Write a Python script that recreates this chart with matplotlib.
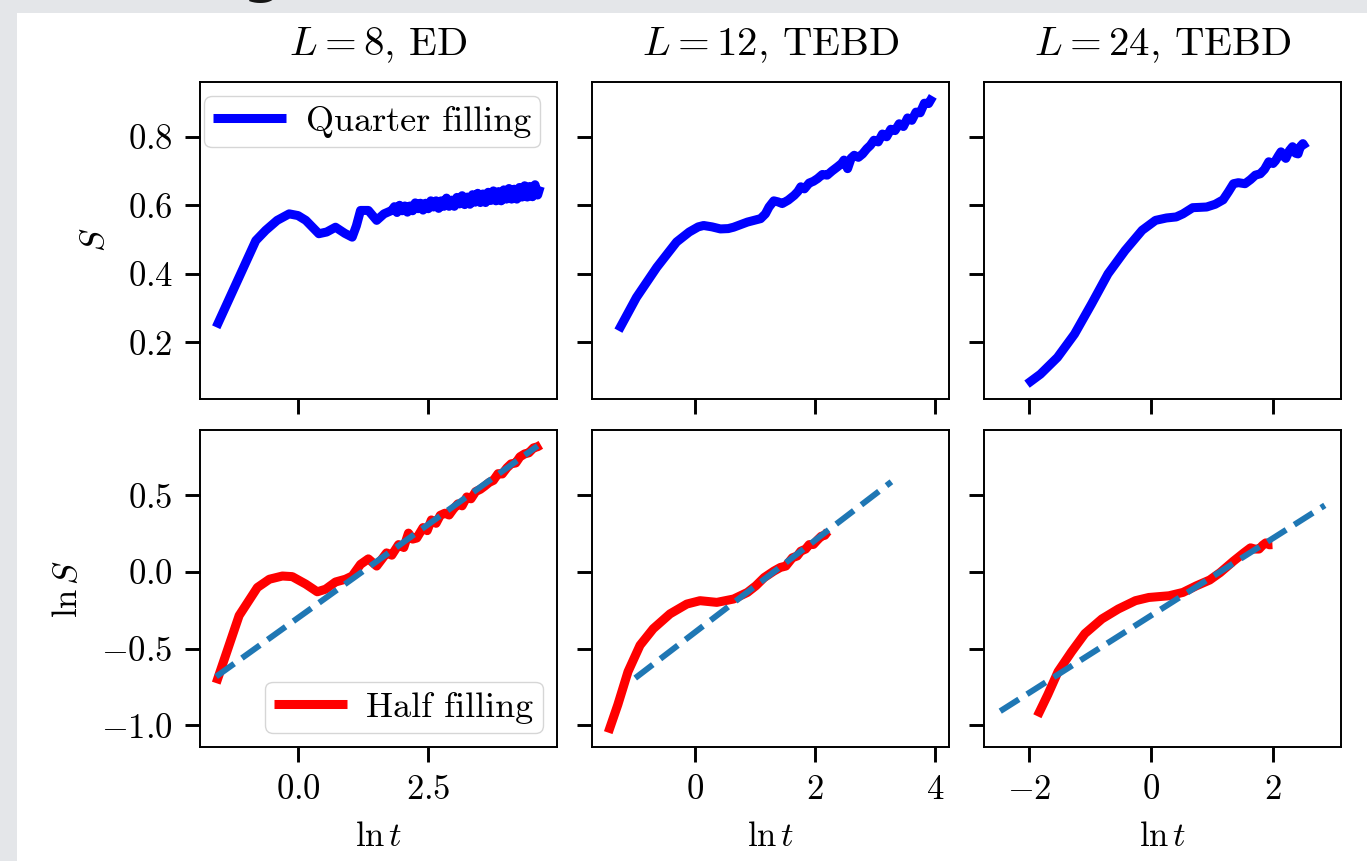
# エンタングルメントエントロピーの時間発展 (ED / TEBD)

# --------------------------------------------
# インポート
# --------------------------------------------
import numpy as np
import matplotlib
matplotlib.use("Agg")
from matplotlib import pyplot as plt
from matplotlib.patches import Rectangle

# --------------------------------------------
# データ
# --------------------------------------------

titles = [r"$L = 8$, ED", r"$L = 12$, TEBD", r"$L = 24$, TEBD"]

# 上段: Quarter filling, S vs ln t
quarter_l8_lnt = [-1.57, -0.81, -0.62, -0.40, -0.17, 0.00, 0.15, 0.40, 0.55, 0.72,
                  0.90, 1.04, 1.12, 1.20, 1.35, 1.51, 1.65, 1.80,
                  1.85, 1.90, 1.95, 2.00, 2.05, 2.10, 2.15, 2.20, 2.25, 2.30,
                  2.35, 2.40, 2.45, 2.50, 2.55, 2.60, 2.65, 2.70, 2.75, 2.80,
                  2.85, 2.90, 2.95, 3.00, 3.05, 3.10, 3.15, 3.20, 3.25, 3.30,
                  3.35, 3.40, 3.45, 3.50, 3.55, 3.60, 3.65, 3.70, 3.75, 3.80,
                  3.85, 3.90, 3.95, 4.00, 4.05, 4.10, 4.15, 4.20, 4.25, 4.30,
                  4.35, 4.40, 4.45, 4.50, 4.55, 4.60, 4.65]
quarter_l8_s = [0.244, 0.497, 0.527, 0.556, 0.575, 0.570, 0.556, 0.517, 0.522, 0.536,
                0.518, 0.507, 0.540, 0.585, 0.585, 0.556, 0.575, 0.585,
                0.596, 0.579, 0.600, 0.584, 0.598, 0.580, 0.598, 0.584, 0.607, 0.590,
                0.606, 0.586, 0.606, 0.590, 0.613, 0.595, 0.613, 0.591, 0.613, 0.597,
                0.621, 0.597, 0.615, 0.597, 0.623, 0.604, 0.628, 0.602, 0.624, 0.603,
                0.631, 0.609, 0.635, 0.608, 0.633, 0.608, 0.638, 0.614, 0.642, 0.613,
                0.640, 0.613, 0.645, 0.618, 0.649, 0.618, 0.647, 0.618, 0.652, 0.624,
                0.657, 0.624, 0.655, 0.625, 0.660, 0.630, 0.655]

quarter_l12_lnt = [-1.28, -0.98, -0.64, -0.31, -0.10, 0.05, 0.14, 0.28, 0.42, 0.55,
                   0.64, 0.87, 1.09, 1.17, 1.23, 1.31, 1.38, 1.45, 1.55, 1.65,
                   1.71, 1.76, 1.82, 1.90, 1.97, 2.04, 2.12, 2.20, 2.28, 2.37,
                   2.44, 2.48, 2.54, 2.60, 2.65, 2.72, 2.79, 2.86, 2.92, 2.98,
                   3.05, 3.12, 3.19, 3.26, 3.33, 3.40, 3.47, 3.54, 3.61, 3.68,
                   3.75, 3.82, 3.89, 3.96]
quarter_l12_s = [0.234, 0.331, 0.419, 0.493, 0.522, 0.537, 0.541, 0.537, 0.531, 0.532,
                 0.536, 0.551, 0.561, 0.575, 0.595, 0.613, 0.610, 0.605, 0.615, 0.629,
                 0.640, 0.654, 0.648, 0.665, 0.670, 0.678, 0.690, 0.688, 0.700, 0.712,
                 0.722, 0.732, 0.707, 0.738, 0.746, 0.740, 0.750, 0.765, 0.775, 0.790,
                 0.785, 0.808, 0.800, 0.822, 0.818, 0.838, 0.830, 0.855, 0.848, 0.872,
                 0.870, 0.898, 0.897, 0.918]

quarter_l24_lnt = [-2.04, -1.82, -1.54, -1.26, -0.98, -0.71, -0.43, -0.15, 0.07, 0.25,
                   0.41, 0.52, 0.68, 0.80, 0.91, 1.05, 1.18, 1.27, 1.35, 1.43,
                   1.54, 1.63, 1.71, 1.79, 1.86, 1.93, 2.00, 2.04, 2.09, 2.13,
                   2.18, 2.21, 2.27, 2.32, 2.37, 2.41, 2.45, 2.49, 2.54]
quarter_l24_s = [0.078, 0.107, 0.156, 0.224, 0.312, 0.400, 0.468, 0.527, 0.556, 0.563,
                 0.566, 0.575, 0.593, 0.594, 0.595, 0.603, 0.616, 0.640, 0.663, 0.666,
                 0.663, 0.675, 0.688, 0.692, 0.705, 0.727, 0.722, 0.730, 0.745, 0.756,
                 0.742, 0.737, 0.760, 0.771, 0.752, 0.750, 0.772, 0.780, 0.766]

# 下段: Half filling, ln S vs ln t
half_l8_lnt = [-1.57, -1.13, -0.78, -0.55, -0.30, -0.11, 0.15, 0.37, 0.53, 0.72,
               0.91, 1.04, 1.20, 1.35, 1.51, 1.70, 1.80, 1.93, 2.03, 2.12,
               2.20, 2.28, 2.40, 2.48, 2.56, 2.65, 2.73, 2.82, 2.90, 2.98,
               3.07, 3.15, 3.24, 3.32, 3.41, 3.50, 3.58, 3.67, 3.75, 3.84,
               3.92, 4.01, 4.09, 4.18, 4.26, 4.35, 4.43, 4.52, 4.60, 4.66]
half_l8_lns = [-0.725, -0.284, -0.101, -0.047, -0.026, -0.030, -0.079, -0.129, -0.112, -0.065,
               -0.047, -0.026, 0.050, 0.086, 0.039, 0.125, 0.110, 0.179, 0.160, 0.254,
               0.215, 0.222, 0.290, 0.270, 0.340, 0.318, 0.370, 0.384, 0.372, 0.410,
               0.445, 0.432, 0.490, 0.478, 0.525, 0.540, 0.560, 0.585, 0.598, 0.642,
               0.640, 0.680, 0.706, 0.712, 0.752, 0.771, 0.778, 0.810, 0.818, 0.830]

half_l12_lnt = [-1.45, -1.29, -1.12, -0.92, -0.70, -0.42, -0.14, 0.08, 0.36, 0.64,
                0.87, 1.01, 1.15, 1.31, 1.42, 1.51, 1.62, 1.70, 1.76, 1.84,
                1.90, 1.97, 2.04, 2.10, 2.16, 2.21]
half_l12_lns = [-1.048, -0.866, -0.650, -0.478, -0.370, -0.273, -0.209, -0.187, -0.198, -0.176,
                -0.133, -0.090, -0.036, 0.006, 0.030, 0.039, 0.093, 0.105, 0.136, 0.150,
                0.179, 0.180, 0.210, 0.233, 0.240, 0.265]

half_l24_lnt = [-1.87, -1.70, -1.53, -1.31, -1.09, -0.81, -0.54, -0.26, -0.04, 0.29,
                0.52, 0.74, 0.96, 1.13, 1.35, 1.52, 1.63, 1.70, 1.77, 1.83,
                1.88, 1.94, 1.99]
half_l24_lns = [-0.941, -0.801, -0.650, -0.521, -0.402, -0.306, -0.241, -0.187, -0.166, -0.155,
                -0.133, -0.090, -0.052, -0.004, 0.071, 0.125, 0.158, 0.150, 0.150, 0.175,
                0.190, 0.178, 0.179]

# 線形フィット (ln S = a ln t + b)
fit_slope = [0.244, 0.300, 0.252]
fit_intercept = [-0.299, -0.392, -0.283]
fit_lnt_range = [[-1.57, 4.60], [-1.00, 3.27], [-2.48, 2.85]]

# 目盛り
xticks_cols = [[0.0, 2.5], [0, 2, 4], [-2, 0, 2]]
yticks_top = [0.2, 0.4, 0.6, 0.8]
yticks_bottom = [-1.0, -0.5, 0.0, 0.5]

quarter_lnt = [quarter_l8_lnt, quarter_l12_lnt, quarter_l24_lnt]
quarter_s = [quarter_l8_s, quarter_l12_s, quarter_l24_s]
half_lnt = [half_l8_lnt, half_l12_lnt, half_l24_lnt]
half_lns = [half_l8_lns, half_l12_lns, half_l24_lns]

# --------------------------------------------
# 描画設定
# --------------------------------------------
plt.rcParams["font.family"] = ["cmr10"]
plt.rcParams["mathtext.fontset"] = "cm"
plt.rcParams["axes.formatter.use_mathtext"] = True
plt.rcParams["axes.unicode_minus"] = True
plt.rcParams["axes.linewidth"] = 1.4
plt.rcParams["xtick.major.size"] = 10.5
plt.rcParams["ytick.major.size"] = 10.5
plt.rcParams["xtick.major.width"] = 2.1
plt.rcParams["ytick.major.width"] = 2.1
plt.rcParams["xtick.major.pad"] = 9
plt.rcParams["ytick.major.pad"] = 9
plt.rcParams["xtick.labelsize"] = 25
plt.rcParams["ytick.labelsize"] = 25

# --------------------------------------------
# 処理
# --------------------------------------------
fig, axes = plt.subplots(2, 3, sharex="col", sharey="row",
                         figsize=(13.67, 8.61), dpi=100)
fig.patch.set_facecolor("#e4e6e9")
# スライドの白い領域
fig.add_artist(Rectangle((17 / 1367, 0), 1, 1 - 13 / 861,
                         transform=fig.transFigure, facecolor="white",
                         edgecolor="none", zorder=-10))
# 上に切れたスライドタイトルの一部
fig.text(262 / 1367, 1 + 9 / 861, "g", family="DejaVu Sans", fontweight="bold",
         fontsize=40, color="#151515", ha="center", va="baseline")

fig.subplots_adjust(left=0.1463, right=0.981, top=0.9048, bottom=0.1324,
                    wspace=0.098, hspace=0.101)

for i in range(3):
    ax_top = axes[0, i]
    ax_bot = axes[1, i]

    ax_top.plot(quarter_lnt[i], quarter_s[i], color="blue", lw=6.5,
                solid_capstyle="butt", label="Quarter filling")
    ax_top.set_title(titles[i], fontsize=29.5, pad=19)

    ax_bot.plot(half_lnt[i], half_lns[i], color="red", lw=6.5,
                solid_capstyle="butt", label="Half filling")
    fit_x = np.array(fit_lnt_range[i])
    ax_bot.plot(fit_x, fit_slope[i] * fit_x + fit_intercept[i],
                color="#1f77b4", lw=4.3, ls="--")

    ax_bot.set_xticks(xticks_cols[i])
    ax_bot.set_xlabel(r"$\ln t$", fontsize=25, labelpad=11)

axes[0, 0].set_yticks(yticks_top)
axes[1, 0].set_yticks(yticks_bottom)
axes[0, 0].set_ylabel(r"$S$", fontsize=25, labelpad=12)
axes[1, 0].set_ylabel(r"$\ln S$", fontsize=25, labelpad=12)

axes[0, 0].legend(loc="upper left", bbox_to_anchor=(-0.028, 1.0),
                  fontsize=26, borderaxespad=0.4, borderpad=0.25,
                  handlelength=2.0, handletextpad=0.55)
axes[1, 0].legend(loc="lower right", fontsize=26, borderaxespad=0.4,
                  borderpad=0.25, handlelength=2.0, handletextpad=0.55)

fig.savefig("out.png", dpi=100, facecolor=fig.get_facecolor())
